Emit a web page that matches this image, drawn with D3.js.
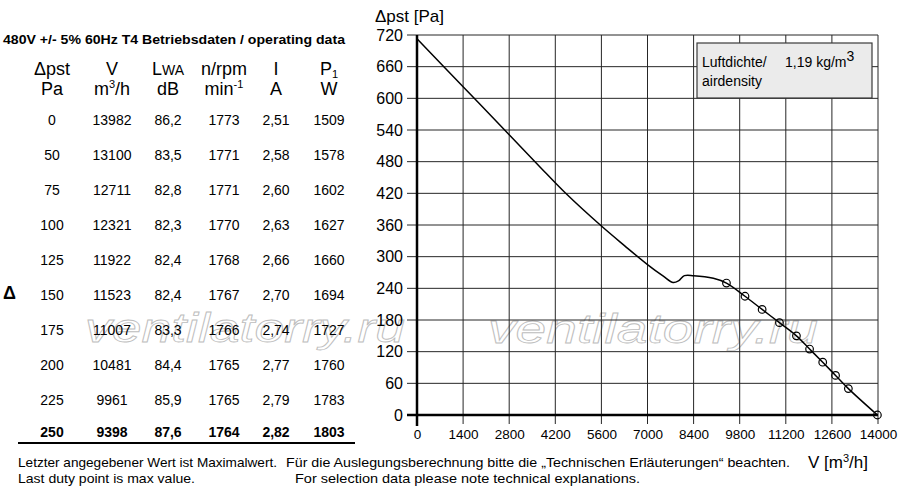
<!DOCTYPE html>
<html lang="de">
<head>
<meta charset="UTF-8">
<title>Betriebsdaten / operating data</title>
<script src="https://d3js.org/d3.v7.min.js"></script>
<style>
    body { margin: 0; padding: 0; background: #fff; }
    svg { display: block; font-family: "Liberation Sans", Arial, Helvetica, sans-serif; }
    .grid line { stroke: #262626; stroke-width: 1; }
    .axis text { fill: #000; }
    .axis line { stroke: #262626; }
    .axis path { display: none; }
    .wm { fill: none; stroke: #bdbdbd; stroke-width: 0.8; font-style: italic; font-size: 41px; }
</style>
</head>
<body>
<svg id="chart" width="900" height="500"></svg>
<script>
// operating points (table)
const pst   = [0, 50, 75, 100, 125, 150, 175, 200, 225, 250];
const flow  = [13982, 13100, 12711, 12321, 11922, 11523, 11007, 10481, 9961, 9398];
const lwa   = ["86,2", "83,5", "82,8", "82,3", "82,4", "82,4", "83,3", "84,4", "85,9", "87,6"];
const rpm   = [1773, 1771, 1771, 1770, 1768, 1767, 1766, 1765, 1765, 1764];
const amps  = ["2,51", "2,58", "2,60", "2,63", "2,66", "2,70", "2,74", "2,77", "2,79", "2,82"];
const power = [1509, 1578, 1602, 1627, 1660, 1694, 1727, 1760, 1783, 1803];

// rest of the fan curve (left of the last duty point)
const curveFlow = [0, 1400, 2800, 3735, 4500, 5600, 6300, 7000, 7480, 7780, 7940, 8120, 8400, 9000];
const curvePst  = [713, 622, 531, 470, 421, 358, 321, 285, 263, 251, 254, 264, 264, 259];

const xTicks = d3.range(0, 14001, 1400);
const yTicks = d3.range(0, 721, 60);

const svg = d3.select("#chart");

const x = d3.scaleLinear().domain([0, 14000]).range([417, 878]);
const y = d3.scaleLinear().domain([0, 720]).range([415, 35]);

// watermarks go under everything
svg.append("text").attr("class", "wm").attr("x", 85).attr("y", 342)
    .attr("textLength", 320).attr("lengthAdjust", "spacingAndGlyphs").text("ventilatorry.ru");
svg.append("text").attr("class", "wm").attr("x", 488).attr("y", 343)
    .attr("textLength", 330).attr("lengthAdjust", "spacingAndGlyphs").text("ventilatorry.ru");

// grid
const grid = svg.append("g").attr("class", "grid");
grid.selectAll(".v").data(xTicks).join("line")
    .attr("x1", d => x(d)).attr("x2", d => x(d))
    .attr("y1", y(720)).attr("y2", y(0) + 9);
grid.selectAll(".h").data(yTicks).join("line")
    .attr("x1", x(0) - 10).attr("x2", x(14000))
    .attr("y1", d => y(d)).attr("y2", d => y(d));

// axes labels
svg.append("g").attr("class", "axis")
    .attr("transform", `translate(0,${y(0)})`)
    .call(d3.axisBottom(x).tickValues(xTicks).tickSize(0).tickPadding(14).tickFormat(d3.format("d")))
    .selectAll("text").style("font-size", "13.5px");

svg.append("g").attr("class", "axis")
    .attr("transform", `translate(${x(0)},0)`)
    .call(d3.axisLeft(y).tickValues(yTicks).tickSize(0).tickPadding(14))
    .selectAll("text").style("font-size", "16px");

// heavy axis lines
svg.append("line").attr("x1", x(0) - 10).attr("x2", x(14000))
    .attr("y1", y(0)).attr("y2", y(0)).attr("stroke", "#000").attr("stroke-width", 2.5);
svg.append("line").attr("x1", x(0)).attr("x2", x(0))
    .attr("y1", y(720)).attr("y2", y(0) + 11).attr("stroke", "#000").attr("stroke-width", 2.5);

// axis titles
svg.append("text").attr("x", 375).attr("y", 22).style("font-size", "17px").text("Δpst [Pa]");
const vt = svg.append("text").attr("x", 808).attr("y", 468).style("font-size", "17px");
vt.append("tspan").text("V [m");
vt.append("tspan").attr("dy", -6).style("font-size", "11px").text("3");
vt.append("tspan").attr("dy", 6).text("/h]");

// legend box
svg.append("rect").attr("x", 697).attr("y", 43).attr("width", 175).attr("height", 55)
    .attr("fill", "#ebebeb").attr("stroke", "#3a3a3a").attr("stroke-width", 1.2);
svg.append("text").attr("x", 702).attr("y", 67).style("font-size", "14px").text("Luftdichte/");
const dens = svg.append("text").attr("x", 785).attr("y", 67).style("font-size", "14px");
dens.append("tspan").text("1,19 kg/m");
dens.append("tspan").attr("dy", -6).text("3");
svg.append("text").attr("x", 702).attr("y", 86).style("font-size", "14px").text("airdensity");

// curve
const curve = curveFlow.map((v, i) => [v, curvePst[i]])
    .concat(flow.map((v, i) => [v, pst[i]]).reverse());

svg.append("path")
    .datum(curve)
    .attr("fill", "none")
    .attr("stroke", "#000")
    .attr("stroke-width", 1.5)
    .attr("d", d3.line().x(d => x(d[0])).y(d => y(d[1])).curve(d3.curveCatmullRom.alpha(0.5)));

svg.selectAll(".pt").data(flow).join("circle")
    .attr("cx", d => x(d)).attr("cy", (d, i) => y(pst[i]))
    .attr("r", 3.8).attr("fill", "none").attr("stroke", "#000").attr("stroke-width", 1.2);

// table
svg.append("text").attr("x", 3).attr("y", 43.5)
    .attr("textLength", 342).attr("lengthAdjust", "spacingAndGlyphs")
    .style("font-size", "12px").style("font-weight", "bold")
    .text("480V +/- 5% 60Hz T4 Betriebsdaten / operating data");

const colX = [52, 112, 168, 224, 276, 329];
const head = svg.append("g").attr("text-anchor", "middle").style("font-size", "18px");

head.append("text").attr("x", colX[0]).attr("y", 75).text("Δpst");
head.append("text").attr("x", colX[1]).attr("y", 75).text("V");
const lw = head.append("text").attr("x", colX[2]).attr("y", 75);
lw.append("tspan").text("L");
lw.append("tspan").style("font-size", "14px").text("WA");
head.append("text").attr("x", colX[3]).attr("y", 75).text("n/rpm");
head.append("text").attr("x", colX[4]).attr("y", 75).text("I");
const p1 = head.append("text").attr("x", colX[5]).attr("y", 75);
p1.append("tspan").text("P");
p1.append("tspan").attr("dy", 3).style("font-size", "11px").text("1");

head.append("text").attr("x", colX[0]).attr("y", 95).text("Pa");
const m3 = head.append("text").attr("x", colX[1]).attr("y", 95);
m3.append("tspan").text("m");
m3.append("tspan").attr("dy", -7).style("font-size", "11px").text("3");
m3.append("tspan").attr("dy", 7).text("/h");
head.append("text").attr("x", colX[2]).attr("y", 95).text("dB");
const mn = head.append("text").attr("x", colX[3]).attr("y", 95);
mn.append("tspan").text("min");
mn.append("tspan").attr("dy", -7).style("font-size", "11px").text("-1");
head.append("text").attr("x", colX[4]).attr("y", 95).text("A");
head.append("text").attr("x", colX[5]).attr("y", 95).text("W");

const rowY = i => (i < 9 ? 125 + i * 35 : 437);
const rows = svg.append("g").attr("text-anchor", "middle").style("font-size", "14px");
pst.forEach((p, i) => {
    const cells = [p, flow[i], lwa[i], rpm[i], amps[i], power[i]];
    cells.forEach((c, j) => {
        rows.append("text")
            .attr("x", colX[j]).attr("y", rowY(i))
            .style("font-weight", i === pst.length - 1 ? "bold" : "normal")
            .text(c);
    });
});

svg.append("line").attr("x1", 18).attr("x2", 355).attr("y1", 443).attr("y2", 443)
    .attr("stroke", "#000").attr("stroke-width", 2);

svg.append("text").attr("x", 3).attr("y", 299)
    .style("font-size", "18px").style("font-weight", "bold").text("Δ");

// footer
const foot = [
    { x: 18,  y: 467, w: 259, t: "Letzter angegebener Wert ist Maximalwert." },
    { x: 18,  y: 483, w: 177, t: "Last duty point is max value." },
    { x: 286, y: 467, w: 504, t: "Für die Auslegungsberechnung bitte die „Technischen Erläuterungen“ beachten." },
    { x: 295, y: 483, w: 345, t: "For selection data please note technical explanations." }
];
svg.selectAll(".foot").data(foot).join("text")
    .attr("x", d => d.x).attr("y", d => d.y)
    .attr("textLength", d => d.w).attr("lengthAdjust", "spacingAndGlyphs")
    .style("font-size", "13px")
    .text(d => d.t);
</script>
</body>
</html>
